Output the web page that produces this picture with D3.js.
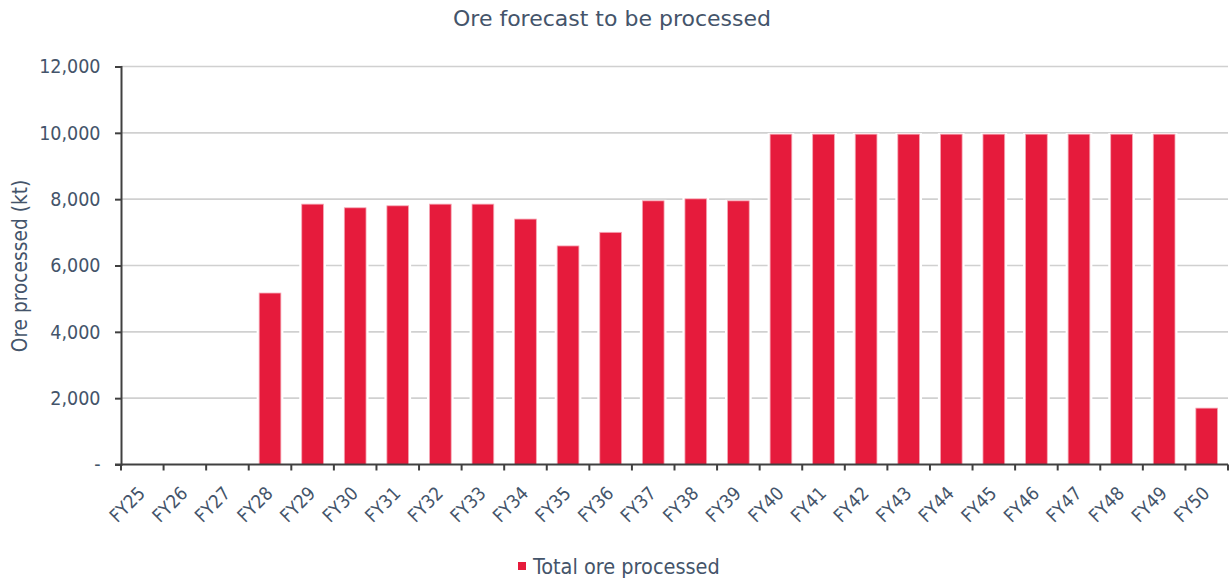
<!DOCTYPE html>
<html>
<head>
<meta charset="utf-8">
<script src="https://cdn.jsdelivr.net/npm/d3@7"></script>
<style>
  html, body { margin: 0; padding: 0; background: #ffffff; }
  svg { display: block; }
  text { font-family: "DejaVu Sans Condensed", "DejaVu Sans", sans-serif; font-stretch: condensed; fill: #44546A; }
  text.title { font-family: "DejaVu Sans", sans-serif; font-stretch: normal; }
</style>
</head>
<body>
<svg id="chart" width="1232" height="581"></svg>
<script>
// Fiscal years shown on the category axis
const years = ["FY25","FY26","FY27","FY28","FY29","FY30","FY31","FY32","FY33","FY34",
  "FY35","FY36","FY37","FY38","FY39","FY40","FY41","FY42","FY43","FY44",
  "FY45","FY46","FY47","FY48","FY49","FY50"];

// Total ore processed per year (kt)
const oreProcessed = [0, 0, 0, 5170, 7850, 7740, 7800, 7850, 7850, 7400,
  6590, 7000, 7950, 8010, 7950, 9960, 9960, 9960, 9960, 9960,
  9960, 9960, 9960, 9960, 9960, 1700];

// Value axis ticks
const yTicks = [0, 2000, 4000, 6000, 8000, 10000, 12000];

const chartTitle = "Ore forecast to be processed";
const yTitle = "Ore processed (kt)";
const seriesName = "Total ore processed";

const barColor = "#E61B3C";
const textColor = "#44546A";
const axisColor = "#404040";
const gridColor = "#D0D0D0";
const fontStack = "'DejaVu Sans Condensed', 'DejaVu Sans', sans-serif";

const svg = d3.select("#chart");
const margin = { left: 121, right: 1228, top: 66.5, bottom: 464.5 };

const x = d3.scaleBand()
  .domain(years)
  .range([margin.left, margin.right])
  .paddingInner(0.49)
  .paddingOuter(0.245);

const y = d3.scaleLinear()
  .domain([0, 12000])
  .range([margin.bottom, margin.top]);

// Title
svg.append("text")
  .attr("class", "title")
  .attr("x", 612).attr("y", 26)
  .attr("text-anchor", "middle")
  .style("font-size", "22px")
  .text(chartTitle);

// Horizontal gridlines
svg.append("g")
  .selectAll("line")
  .data(yTicks.filter(d => d > 0))
  .join("line")
  .attr("x1", margin.left).attr("x2", margin.right)
  .attr("y1", d => y(d)).attr("y2", d => y(d))
  .attr("stroke", gridColor)
  .attr("stroke-width", 1.6);

// Bars with a white halo so gridlines break around them
const barData = oreProcessed.map((v, i) => ({ year: years[i], value: v })).filter(d => d.value > 0);
const bars = svg.append("g");
bars.selectAll("rect.halo")
  .data(barData)
  .join("rect")
  .attr("class", "halo")
  .attr("x", d => x(d.year) - 2.5)
  .attr("width", x.bandwidth() + 5)
  .attr("y", d => y(d.value) - 1)
  .attr("height", d => y(0) - y(d.value) + 1)
  .attr("fill", "#ffffff");

bars.selectAll("rect.bar")
  .data(barData)
  .join("rect")
  .attr("class", "bar")
  .attr("x", d => x(d.year))
  .attr("width", x.bandwidth())
  .attr("y", d => y(d.value))
  .attr("height", d => y(0) - y(d.value))
  .attr("fill", barColor)
  .attr("stroke", "#F6A9B6")
  .attr("stroke-width", 0.8);

// Y axis
const yAxis = d3.axisLeft(y)
  .tickValues(yTicks)
  .tickSize(6)
  .tickPadding(14.5)
  .tickFormat(d => d === 0 ? "-" : d3.format(",")(d));

const gy = svg.append("g")
  .attr("transform", `translate(${margin.left},0)`)
  .call(yAxis);
gy.attr("font-family", null).attr("font-size", null);
gy.select(".domain").attr("stroke", axisColor).attr("stroke-width", 2);
gy.selectAll(".tick line").attr("stroke", axisColor).attr("stroke-width", 2);
gy.selectAll(".tick text")
  .style("font-size", "19.5px")
  .style("font-family", fontStack)
  .attr("fill", textColor);

// X axis: ticks at category boundaries
const gx = svg.append("g");
gx.append("line")
  .attr("x1", margin.left - 6).attr("x2", margin.right)
  .attr("y1", y(0)).attr("y2", y(0))
  .attr("stroke", axisColor).attr("stroke-width", 2);

const step = x.step();
const boundaries = d3.range(years.length + 1).map(i => margin.left + i * step);
gx.selectAll("line.tick")
  .data(boundaries)
  .join("line")
  .attr("class", "tick")
  .attr("x1", d => d).attr("x2", d => d)
  .attr("y1", y(0)).attr("y2", y(0) + 6)
  .attr("stroke", axisColor).attr("stroke-width", 2);

gx.selectAll("text")
  .data(years)
  .join("text")
  .attr("text-anchor", "end")
  .attr("transform", d => `translate(${x(d) + x.bandwidth() / 2 + 4},${y(0) + 30}) rotate(-45)`)
  .style("font-size", "18.5px")
  .text(d => d);

// Y axis title
svg.append("text")
  .attr("transform", `translate(27,266) rotate(-90)`)
  .attr("text-anchor", "middle")
  .style("font-size", "20.7px")
  .text(yTitle);

// Legend
const legend = svg.append("g").attr("transform", "translate(518,566)");
legend.append("rect")
  .attr("x", 0).attr("y", -4)
  .attr("width", 8).attr("height", 8)
  .attr("fill", barColor);
legend.append("text")
  .attr("x", 15).attr("y", 7.5)
  .style("font-size", "21.5px")
  .text(seriesName);
</script>
</body>
</html>
